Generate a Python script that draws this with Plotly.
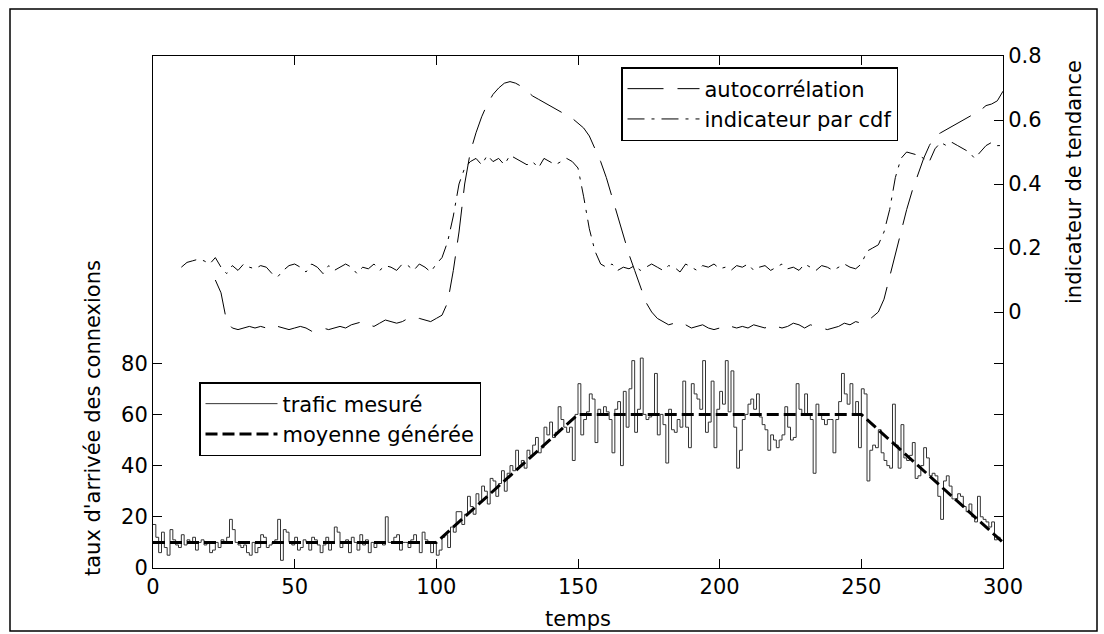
import plotly.graph_objects as go

# ---------------- data ----------------
traffic_t = list(range(0, 300))
traffic = [
    17, 12, 6, 14, 8, 5, 15, 11, 9, 8,
    13, 9, 11, 10, 12, 7, 10, 11, 9, 10,
    6, 7, 10, 8, 11, 10, 12, 19, 15, 10,
    9, 8, 9, 6, 5, 10, 6, 8, 13, 12,
    8, 9, 10, 11, 19, 3, 15, 14, 10, 9,
    12, 7, 8, 11, 10, 7, 12, 11, 9, 6,
    9, 12, 7, 10, 16, 14, 8, 10, 11, 6,
    12, 10, 7, 13, 9, 11, 6, 10, 8, 10,
    10, 9, 20, 10, 10, 12, 13, 7, 10, 10,
    8, 11, 13, 10, 6, 14, 11, 10, 6, 10,
    5, 7, 12, 13, 8, 16, 14, 22, 22, 17,
    21, 28, 24, 21, 29, 26, 32, 30, 25, 35,
    34, 28, 33, 38, 30, 37, 40, 38, 46, 40,
    42, 39, 46, 44, 48, 51, 45, 47, 55, 52,
    57, 51, 53, 63, 58, 55, 53, 55, 42, 60,
    72, 52, 58, 61, 68, 66, 49, 62, 60, 63,
    61, 58, 45, 62, 65, 40, 69, 55, 70, 81,
    53, 62, 82, 60, 58, 59, 60, 76, 52, 60,
    56, 41, 62, 54, 53, 58, 55, 73, 55, 47,
    72, 68, 66, 62, 81, 53, 57, 73, 47, 62,
    69, 64, 81, 61, 77, 55, 39, 46, 58, 60,
    64, 66, 62, 68, 59, 56, 54, 46, 52, 50,
    47, 50, 52, 63, 55, 50, 51, 72, 62, 60,
    68, 60, 58, 37, 64, 60, 58, 56, 58, 58,
    45, 58, 65, 76, 68, 64, 72, 60, 65, 47,
    70, 68, 34, 46, 48, 47, 54, 45, 42, 40,
    39, 64, 48, 39, 56, 43, 42, 44, 49, 35,
    36, 40, 47, 43, 36, 37, 36, 28, 19, 34,
    36, 32, 27, 27, 29, 28, 24, 22, 25, 20,
    18, 28, 20, 19, 18, 16, 18, 11, 12, 11,
]

mean_t = [0, 100, 150, 250, 300]
mean_v = [10, 10, 60, 60, 10]

autocorr_t = list(range(22, 301, 2))
autocorr = [
    0.10, 0.06, -0.03, -0.05, -0.055, -0.05, -0.045, -0.05, -0.045, -0.05,
    -0.04, -0.045, -0.05, -0.055, -0.05, -0.045, -0.05, -0.06, -0.055, -0.05,
    -0.055, -0.05, -0.045, -0.05, -0.04, -0.035, -0.03, -0.04, -0.045, -0.035,
    -0.025, -0.03, -0.035, -0.03, -0.02, -0.025, -0.02, -0.025, -0.03, -0.02,
    -0.01, 0.03, 0.13, 0.25, 0.40, 0.50, 0.56, 0.61, 0.65, 0.68,
    0.70, 0.715, 0.72, 0.715, 0.705, 0.69, 0.675, 0.665, 0.655, 0.645,
    0.635, 0.625, 0.615, 0.605, 0.59, 0.575, 0.55, 0.51, 0.47, 0.42,
    0.36, 0.30, 0.24, 0.18, 0.13, 0.08, 0.03, 0.0, -0.02, -0.03,
    -0.04, -0.035, -0.045, -0.04, -0.05, -0.045, -0.04, -0.05, -0.055, -0.05,
    -0.055, -0.045, -0.05, -0.045, -0.05, -0.04, -0.045, -0.05, -0.04, -0.045,
    -0.05, -0.045, -0.035, -0.04, -0.05, -0.04, -0.045, -0.05, -0.055, -0.05,
    -0.045, -0.035, -0.04, -0.03, -0.035, -0.03, -0.015, 0.0, 0.04, 0.11,
    0.18, 0.25, 0.32, 0.38, 0.43, 0.48, 0.52, 0.55, 0.56, 0.57,
    0.58, 0.59, 0.60, 0.61, 0.62, 0.63, 0.645, 0.65, 0.66, 0.69,
]

cdf_t = list(range(10, 301, 2))
cdf = [
    0.14, 0.155, 0.16, 0.165, 0.16, 0.15, 0.17, 0.14, 0.12, 0.145,
    0.13, 0.15, 0.14, 0.135, 0.145, 0.14, 0.12, 0.11, 0.13, 0.145,
    0.15, 0.14, 0.125, 0.15, 0.14, 0.12, 0.145, 0.13, 0.14, 0.15,
    0.14, 0.12, 0.14, 0.135, 0.15, 0.13, 0.145, 0.14, 0.13, 0.15,
    0.145, 0.13, 0.15, 0.14, 0.125, 0.15, 0.17, 0.22, 0.30, 0.40,
    0.45, 0.47, 0.48, 0.46, 0.49, 0.47, 0.48, 0.46, 0.49, 0.48,
    0.47, 0.46, 0.47, 0.45, 0.48, 0.47, 0.46, 0.47, 0.48, 0.47,
    0.45, 0.36, 0.26, 0.19, 0.15, 0.14, 0.15, 0.13, 0.14, 0.135,
    0.145, 0.13, 0.14, 0.15, 0.14, 0.13, 0.145, 0.14, 0.125, 0.15,
    0.14, 0.13, 0.145, 0.14, 0.15, 0.135, 0.14, 0.13, 0.145, 0.14,
    0.15, 0.13, 0.14, 0.145, 0.13, 0.14, 0.15, 0.135, 0.14, 0.13,
    0.15, 0.14, 0.13, 0.145, 0.14, 0.13, 0.14, 0.15, 0.14, 0.135,
    0.15, 0.19, 0.20, 0.21, 0.25, 0.32, 0.42, 0.48, 0.50, 0.495,
    0.49, 0.48, 0.47, 0.51, 0.53, 0.52, 0.53, 0.52, 0.51, 0.50,
    0.48, 0.50, 0.52, 0.53, 0.52, 0.52,
]

x_ticks = [0, 50, 100, 150, 200, 250, 300]
left_ticks = [0, 20, 40, 60, 80]
right_ticks = [0, 0.2, 0.4, 0.6, 0.8]
right_tick_text = ["0", "0.2", "0.4", "0.6", "0.8"]

labels = {
    "x": "temps",
    "y_left": "taux d'arrivée des connexions",
    "y_right": "indicateur de tendance",
    "traffic": "trafic mesuré",
    "mean": "moyenne générée",
    "autocorr": "autocorrélation",
    "cdf": "indicateur par cdf",
}

# ---------------- figure ----------------
FONT = "DejaVu Sans, Liberation Sans, Arial, sans-serif"
FS = 21
W, H = 1104, 634
L, R, T, B = 153, 1003, 56, 568


def px(xp):
    return (xp - L) / (R - L)


def py(yp):
    return (B - yp) / (B - T)


fig = go.Figure()

fig.add_trace(go.Scatter(
    x=traffic_t, y=traffic, mode="lines", line_shape="hv",
    line=dict(color="#333333", width=1), name=labels["traffic"],
    legend="legend2", legendgroup="a", yaxis="y"))
fig.add_trace(go.Scatter(
    x=mean_t, y=mean_v, mode="lines",
    line=dict(color="black", width=3, dash="12px,5px"), name=labels["mean"],
    legend="legend2", legendgroup="b", yaxis="y"))
fig.add_trace(go.Scatter(
    x=autocorr_t, y=autocorr, mode="lines",
    line=dict(color="black", width=1, dash="36px,14px"), name=labels["autocorr"],
    legend="legend", legendgroup="c", yaxis="y2"))
fig.add_trace(go.Scatter(
    x=cdf_t, y=cdf, mode="lines",
    line=dict(color="black", width=1, dash="17px,7px,3px,7px"), name=labels["cdf"],
    legend="legend", legendgroup="d", yaxis="y2"))

axis_common = dict(
    showgrid=False, zeroline=False, showline=True, linecolor="black", linewidth=1,
    ticks="inside", ticklen=9, tickcolor="black", tickwidth=1,
    tickfont=dict(family=FONT, size=FS, color="black"),
)

fig.update_layout(
    width=W, height=H,
    margin=dict(l=L, r=W - R, t=T, b=H - B, autoexpand=False),
    paper_bgcolor="white", plot_bgcolor="white",
    font=dict(family=FONT, size=FS, color="black"),
    xaxis=dict(range=[0, 300], tickvals=x_ticks, mirror="ticks",
               title=dict(text=labels["x"], font=dict(family=FONT, size=FS), standoff=13),
               **axis_common),
    yaxis=dict(range=[0, 200], tickvals=left_ticks, mirror="ticks", **axis_common),
    yaxis2=dict(range=[-0.8, 0.8], tickvals=right_ticks, ticktext=right_tick_text,
                overlaying="y", side="right", **axis_common),
    legend=dict(x=px(621), y=py(67), xanchor="left", yanchor="top",
                bgcolor="white", bordercolor="black", borderwidth=1.5,
                font=dict(family=FONT, size=FS), itemwidth=72,
                traceorder="grouped", tracegroupgap=0),
    legend2=dict(x=px(199), y=py(382), xanchor="left", yanchor="top",
                 bgcolor="white", bordercolor="black", borderwidth=1.5,
                 font=dict(family=FONT, size=FS), itemwidth=72,
                 traceorder="grouped", tracegroupgap=0),
    showlegend=True,
)

fig.add_annotation(text=labels["y_left"], xref="paper", yref="paper",
                   x=px(93), y=py(418), xanchor="center", yanchor="middle",
                   textangle=-90, showarrow=False,
                   font=dict(family=FONT, size=FS, color="black"))
fig.add_annotation(text=labels["y_right"], xref="paper", yref="paper",
                   x=px(1074), y=py(182), xanchor="center", yanchor="middle",
                   textangle=-90, showarrow=False,
                   font=dict(family=FONT, size=FS, color="black"))

# outer figure frame
fig.add_shape(type="rect", xref="paper", yref="paper",
              x0=px(10), x1=px(1097), y0=py(631), y1=py(9),
              line=dict(color="black", width=1.5), layer="below")

fig.write_html("out.html")
